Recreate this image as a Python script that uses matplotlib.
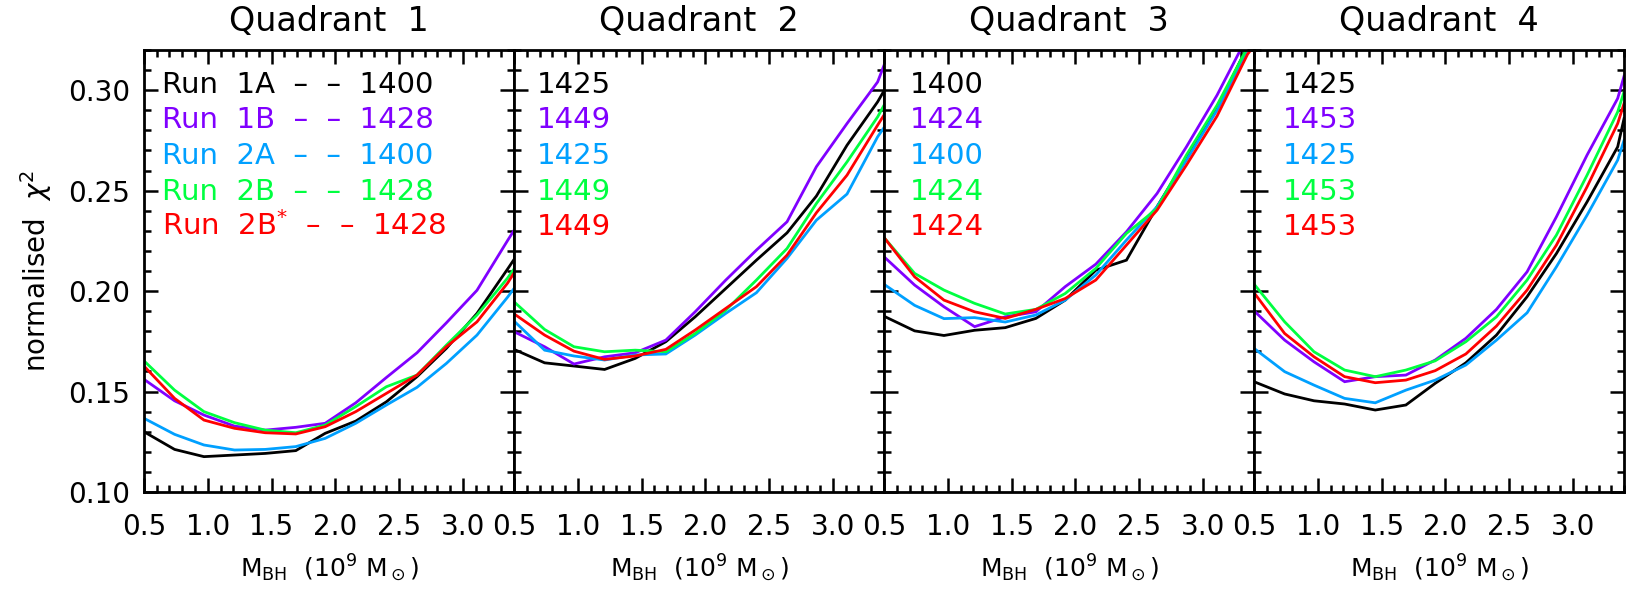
import matplotlib
matplotlib.use('Agg')
import matplotlib.pyplot as plt
from matplotlib.ticker import MultipleLocator

# black hole mass grid (10^9 Msun); last value is where the curves meet the panel edge
mass = [0.50, 0.74, 0.97, 1.21, 1.45, 1.69, 1.92, 2.16, 2.40, 2.64, 2.87, 3.11, 3.35, 3.40]

runs = ['Run  1A', 'Run  1B', 'Run  2A', 'Run  2B', r'Run  2B$^{*}$']
colours = ['black', '#8000ff', '#00a0ff', '#00ff40', '#ff0000']
quadrants = ['Quadrant  1', 'Quadrant  2', 'Quadrant  3', 'Quadrant  4']

# normalised chi^2, rows in run order (1A, 1B, 2A, 2B, 2B*)
quad1 = [
    [0.1300, 0.1212, 0.1176, 0.1184, 0.1192, 0.1206, 0.1292, 0.1353, 0.1449, 0.1574, 0.1715, 0.1889, 0.2110, 0.2157],
    [0.1561, 0.1454, 0.1383, 0.1328, 0.1308, 0.1322, 0.1342, 0.1444, 0.1570, 0.1693, 0.1842, 0.2004, 0.2252, 0.2302],
    [0.1367, 0.1287, 0.1234, 0.1209, 0.1212, 0.1226, 0.1267, 0.1342, 0.1433, 0.1521, 0.1640, 0.1781, 0.1970, 0.2013],
    [0.1653, 0.1507, 0.1400, 0.1345, 0.1308, 0.1295, 0.1333, 0.1425, 0.1524, 0.1582, 0.1731, 0.1881, 0.2065, 0.2110],
    [0.1627, 0.1466, 0.1358, 0.1317, 0.1295, 0.1289, 0.1325, 0.1400, 0.1491, 0.1582, 0.1723, 0.1847, 0.2040, 0.2090],
]
quad2 = [
    [0.1710, 0.1643, 0.1627, 0.1610, 0.1665, 0.1748, 0.1872, 0.2013, 0.2154, 0.2290, 0.2473, 0.2726, 0.2942, 0.2997],
    [0.1798, 0.1723, 0.1637, 0.1673, 0.1693, 0.1756, 0.1897, 0.2055, 0.2204, 0.2345, 0.2619, 0.2834, 0.3041, 0.3124],
    [0.1851, 0.1706, 0.1677, 0.1657, 0.1682, 0.1687, 0.1781, 0.1889, 0.1992, 0.2163, 0.2353, 0.2483, 0.2768, 0.2814],
    [0.1947, 0.1809, 0.1723, 0.1698, 0.1706, 0.1698, 0.1789, 0.1905, 0.2055, 0.2212, 0.2436, 0.2643, 0.2867, 0.2925],
    [0.1887, 0.1781, 0.1701, 0.1660, 0.1677, 0.1710, 0.1806, 0.1914, 0.2022, 0.2179, 0.2390, 0.2577, 0.2826, 0.2876],
]
quad3 = [
    [0.1875, 0.1802, 0.1779, 0.1805, 0.1818, 0.1864, 0.1955, 0.2104, 0.2154, 0.2420, 0.2660, 0.2909, 0.3220, 0.3280],
    [0.2171, 0.2030, 0.1922, 0.1823, 0.1872, 0.1897, 0.2022, 0.2134, 0.2295, 0.2486, 0.2718, 0.2975, 0.3270, 0.3330],
    [0.2034, 0.1929, 0.1863, 0.1868, 0.1846, 0.1881, 0.1955, 0.2080, 0.2254, 0.2420, 0.2652, 0.2900, 0.3205, 0.3250],
    [0.2267, 0.2088, 0.2005, 0.1939, 0.1886, 0.1909, 0.1988, 0.2113, 0.2287, 0.2411, 0.2677, 0.2925, 0.3215, 0.3270],
    [0.2267, 0.2071, 0.1955, 0.1897, 0.1864, 0.1909, 0.1963, 0.2055, 0.2229, 0.2403, 0.2627, 0.2871, 0.3180, 0.3220],
]
quad4 = [
    [0.1549, 0.1488, 0.1454, 0.1438, 0.1408, 0.1433, 0.1541, 0.1643, 0.1781, 0.1972, 0.2187, 0.2444, 0.2718, 0.2859],
    [0.1902, 0.1756, 0.1648, 0.1549, 0.1574, 0.1582, 0.1657, 0.1765, 0.1909, 0.2096, 0.2370, 0.2677, 0.2959, 0.3070],
    [0.1715, 0.1599, 0.1532, 0.1466, 0.1444, 0.1507, 0.1557, 0.1632, 0.1756, 0.1892, 0.2121, 0.2378, 0.2652, 0.2751],
    [0.2035, 0.1847, 0.1698, 0.1607, 0.1574, 0.1607, 0.1653, 0.1748, 0.1872, 0.2055, 0.2279, 0.2577, 0.2892, 0.2992],
    [0.1992, 0.1789, 0.1673, 0.1574, 0.1544, 0.1557, 0.1604, 0.1687, 0.1826, 0.2005, 0.2229, 0.2519, 0.2834, 0.2934],
]

# best-fit number printed in each panel
best = [
    [1400, 1428, 1400, 1428, 1428],
    [1425, 1449, 1425, 1449, 1449],
    [1400, 1424, 1400, 1424, 1424],
    [1425, 1453, 1425, 1453, 1453],
]

plt.rcParams['font.family'] = ['DejaVu Sans']
plt.rcParams['mathtext.fontset'] = 'dejavusans'

fig, axes = plt.subplots(1, 4, figsize=(16.36, 5.91), dpi=100, sharey=True)
fig.subplots_adjust(left=0.088, right=0.9927, bottom=0.1675, top=0.9154, wspace=0)

text_x = [0.05, 0.062, 0.07, 0.078]

for i, (ax, data) in enumerate(zip(axes, [quad1, quad2, quad3, quad4])):
    for j, curve in enumerate(data):
        ax.plot(mass, curve, color=colours[j], lw=2.0, solid_joinstyle='miter')
        if i == 0:
            label = runs[j] + '  \u2013  \u2013  ' + str(best[i][j])
        else:
            label = str(best[i][j])
        ax.text(text_x[i], 0.903 - j * 0.0805, label, color=colours[j], fontsize=21,
                transform=ax.transAxes, va='baseline', ha='left')

    ax.set_xlim(0.5, 3.4)
    ax.set_ylim(0.10, 0.32)
    ax.set_xticks([0.5, 1.0, 1.5, 2.0, 2.5, 3.0])
    ax.set_xticklabels(['0.5', '1.0', '1.5', '2.0', '2.5', '3.0'])
    ax.xaxis.set_minor_locator(MultipleLocator(0.1))
    ax.yaxis.set_major_locator(MultipleLocator(0.05))
    ax.yaxis.set_minor_locator(MultipleLocator(0.01))
    ax.tick_params(which='both', direction='in', top=True, right=True, width=1.8,
                   labelsize=20, color='black')
    ax.tick_params(which='major', length=10)
    ax.tick_params(which='minor', length=5)
    ax.tick_params(axis='x', which='major', pad=15)
    ax.tick_params(axis='y', which='major', pad=10)
    for sp in ax.spines.values():
        sp.set_linewidth(2)
    ax.set_title(quadrants[i], fontsize=24, pad=14)
    ax.set_xlabel(r'M$_{\rm BH}$  (10$^9$ M$_\odot$)', fontsize=18, labelpad=8)

axes[0].set_yticks([0.10, 0.15, 0.20, 0.25, 0.30])
axes[0].set_yticklabels(['0.10', '0.15', '0.20', '0.25', '0.30'])
axes[0].set_ylabel(r'normalised  $\chi^2$', fontsize=20, labelpad=10)

fig.savefig('out.png', dpi=100)
